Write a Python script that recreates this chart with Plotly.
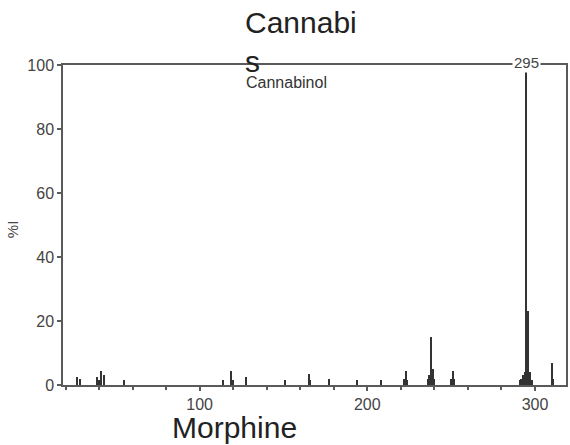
import plotly.graph_objects as go

# Cannabinol EI mass spectrum: m/z and relative intensity (%I)
mz = [27, 29, 39, 40, 41, 43, 55, 114, 119, 120, 128, 151, 165, 166, 177, 194, 208,
      222, 223, 224, 236, 237, 238, 239, 240, 250, 251, 252,
      291, 292, 293, 294, 295, 296, 297, 298, 310, 311]
intensity = [2.5, 2.0, 2.5, 1.5, 4.5, 3.0, 1.5, 1.5, 4.5, 1.5, 2.5, 1.5, 3.5, 1.5, 2.0, 1.5, 1.5,
             2.0, 4.5, 1.5, 2.0, 3.0, 15.0, 5.0, 2.0, 2.0, 4.5, 2.0,
             1.5, 2.0, 3.0, 4.0, 100.0, 23.0, 4.0, 1.5, 7.0, 2.0]

x_range = [18.5, 318.5]
y_range = [0, 100]
y_ticks = [0, 20, 40, 60, 80, 100]
x_ticks = [100, 200, 300]
base_peak = 295

title_lines = ["Cannabi", "s"]
compound = "Cannabinol"
footer = "Morphine"
y_title = "%I"

W, H = 570, 445
L, R, T, B = 63, 2, 65, 60
pw, ph = W - L - R, H - T - B


def px(xp):
    return (xp - L) / pw


def py(yp):
    return (H - B - yp) / ph


font_family = "Liberation Sans, Arial, sans-serif"
axis_col = "#5a5a5a"

fig = go.Figure()
fig.add_trace(go.Bar(x=mz, y=intensity, width=0.75,
                     marker=dict(color="#333333", line=dict(width=0)),
                     hoverinfo="x+y"))

fig.update_layout(
    width=W, height=H,
    margin=dict(l=L, r=R, t=T, b=B),
    paper_bgcolor="white", plot_bgcolor="white",
    showlegend=False,
    bargap=0,
    font=dict(family=font_family, color="#333"),
)

fig.update_xaxes(
    range=x_range, tickvals=x_ticks, ticks="outside", ticklen=4, tickwidth=1.5,
    tickcolor=axis_col, showline=True, linecolor=axis_col, linewidth=1.5,
    mirror=True, showgrid=False, zeroline=False,
    tickfont=dict(size=16, color="#444"),
    minor=dict(dtick=20, tick0=0, ticks="outside", ticklen=3, tickcolor=axis_col, showgrid=False),
)
fig.update_yaxes(
    range=y_range, tickvals=y_ticks, ticks="outside", ticklen=4, tickwidth=1.5,
    tickcolor=axis_col, showline=True, linecolor=axis_col, linewidth=1.5,
    mirror=True, showgrid=False, zeroline=False,
    tickfont=dict(size=16, color="#444"),
)

annotations = [
    dict(text="<br>".join(title_lines), x=px(244), y=py(4), xanchor="left", yanchor="top",
         align="left", font=dict(size=30, color="#222")),
    dict(text=compound, x=px(245), y=py(72), xanchor="left", yanchor="top",
         font=dict(size=16, color="#333")),
    dict(text=str(base_peak), x=base_peak, xref="x", y=py(62), xanchor="center",
         yanchor="middle", bgcolor="white", borderpad=1, font=dict(size=15, color="#444")),
    dict(text=footer, x=px(170), y=py(446), xanchor="left", yanchor="bottom",
         font=dict(size=30, color="#222")),
    dict(text=y_title, x=px(12), y=py(229), xanchor="center", yanchor="middle",
         textangle=-90, font=dict(size=15, color="#444")),
]
for a in annotations:
    a.setdefault("xref", "paper")
    a.setdefault("yref", "paper")
    a["showarrow"] = False
fig.update_layout(annotations=annotations)

fig.write_html("out.html")
